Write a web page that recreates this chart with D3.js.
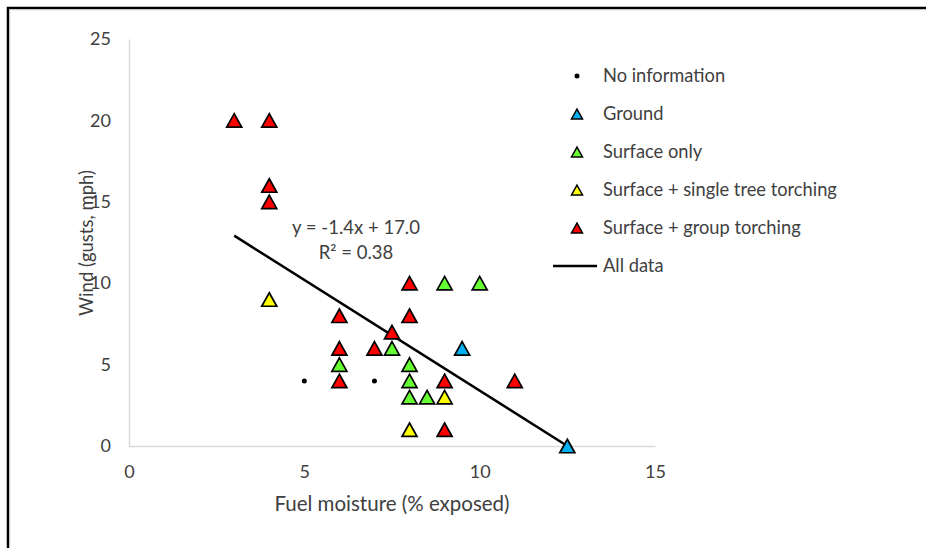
<!DOCTYPE html>
<html>
<head>
<meta charset="utf-8">
<script src="https://cdn.jsdelivr.net/npm/d3@7"></script>
<style>
	body { margin: 0; background: #fff; }
	text { font-family: Lato, "Open Sans", sans-serif; fill: #404040; }
</style>
</head>
<body>
<div id="graph"></div>
<script>
// categories, in legend order
var categories = ["No information", "Ground", "Surface only", "Surface + single tree torching", "Surface + group torching"];
var catColors = ["#000000", "#00b0f0", "#66ff33", "#ffff00", "#ff0000"];

// [fuel moisture, wind gusts] per category
var noInfo = [[5, 4], [7, 4]];
var ground = [[9.5, 6], [12.5, 0]];
var surfaceOnly = [[9, 10], [10, 10], [7.5, 6], [6, 5], [8, 5], [8, 4], [8, 3], [8.5, 3]];
var singleTree = [[4, 9], [9, 3], [8, 1]];
var groupTorch = [[3, 20], [4, 20], [4, 16], [4, 15], [6, 8], [8, 10], [8, 8], [7.5, 7],
	[6, 6], [7, 6], [6, 4], [9, 4], [9, 1], [11, 4]];

var xTicks = [0, 5, 10, 15];
var yTicks = [0, 5, 10, 15, 20, 25];

// linear trend, all data
var trendSlope = -1.36;
var trendIntercept = 17.0;
var trendRange = [3, 12.5];
var trendLabel = ["y = -1.4x + 17.0", "R\u00b2 = 0.38"];

var seriesList = [noInfo, ground, surfaceOnly, singleTree, groupTorch];

var width = 926, height = 548;

var x = d3.scaleLinear().domain([0, 15]).range([129, 655]);
var y = d3.scaleLinear().domain([0, 25]).range([446, 39]);

// triangle centred on its box, like Excel markers
function triangle(w) {
	var h = w * 0.9;
	return "M0," + (-h / 2) + "L" + (w / 2) + "," + (h / 2) + "L" + (-w / 2) + "," + (h / 2) + "Z";
}

var vis = d3.select("#graph")
	.append("svg")
	.attr("width", width)
	.attr("height", height);

// chart area border (cropped at right/bottom)
vis.append("rect")
	.attr("x", 8).attr("y", 8)
	.attr("width", width + 20).attr("height", height + 20)
	.attr("style", "fill:none;stroke:black;stroke-width:2.5");
vis.append("rect")
	.attr("x", 9.8).attr("y", 9.8)
	.attr("width", width + 20).attr("height", height + 20)
	.attr("style", "fill:none;stroke:#c8c8c8;stroke-width:0.8");

// axes
var xAxis = vis.append("g")
	.attr("transform", "translate(0," + y(0) + ")")
	.call(d3.axisBottom(x).tickValues(xTicks).tickSize(0).tickPadding(19).tickFormat(d3.format("d")));
var yAxis = vis.append("g")
	.attr("transform", "translate(" + x(0) + ",0)")
	.call(d3.axisLeft(y).tickValues(yTicks).tickSize(0).tickPadding(18).tickFormat(d3.format("d")));

[xAxis, yAxis].forEach(function (a) {
	a.select(".domain").attr("style", "stroke:#d9d9d9;stroke-width:1.5");
	a.selectAll("text")
		.attr("font-size", "18px")
		.attr("font-family", null)
		.attr("fill", null);
});

vis.append("text")
	.attr("x", 392).attr("y", 511)
	.attr("text-anchor", "middle")
	.attr("font-size", "20.5px")
	.text("Fuel moisture (% exposed)");

vis.append("text")
	.attr("transform", "translate(93,243) rotate(-90)")
	.attr("text-anchor", "middle")
	.attr("font-size", "18.5px")
	.text("Wind (gusts, mph)");

// trend line
vis.append("line")
	.attr("x1", x(trendRange[0]))
	.attr("y1", y(trendSlope * trendRange[0] + trendIntercept))
	.attr("x2", x(trendRange[1]))
	.attr("y2", y(trendSlope * trendRange[1] + trendIntercept))
	.attr("style", "stroke:black;stroke-width:2.5");

// points
seriesList.forEach(function (data, i) {
	var g = vis.append("g").attr("class", "series" + i);
	if (i === 0) {
		g.selectAll("circle")
			.data(data)
			.enter()
			.append("circle")
			.attr("cx", function (d) { return x(d[0]); })
			.attr("cy", function (d) { return y(d[1]); })
			.attr("r", 2.5)
			.attr("fill", "black");
	} else {
		g.selectAll("path")
			.data(data)
			.enter()
			.append("path")
			.attr("d", triangle(15))
			.attr("transform", function (d) { return "translate(" + x(d[0]) + "," + y(d[1]) + ")"; })
			.attr("style", "fill:" + catColors[i] + ";stroke:black;stroke-width:1.7;stroke-linejoin:miter");
	}
});

// equation
vis.selectAll(".eq")
	.data(trendLabel)
	.enter()
	.append("text")
	.attr("class", "eq")
	.attr("x", 356)
	.attr("y", function (d, i) { return 234 + i * 25; })
	.attr("text-anchor", "middle")
	.attr("font-size", "18.5px")
	.text(function (d) { return d; });

// legend
var legend = vis.append("g");
var rowY = function (i) { return 76 + i * 38; };
categories.forEach(function (c, i) {
	if (i === 0) {
		legend.append("circle")
			.attr("cx", 577).attr("cy", rowY(i)).attr("r", 2.5).attr("fill", "black");
	} else {
		legend.append("path")
			.attr("d", triangle(11))
			.attr("transform", "translate(577," + rowY(i) + ")")
			.attr("style", "fill:" + catColors[i] + ";stroke:black;stroke-width:1.5");
	}
	legend.append("text")
		.attr("x", 603).attr("y", rowY(i)).attr("dy", "0.35em")
		.attr("font-size", "18.3px")
		.text(c);
});
legend.append("line")
	.attr("x1", 553).attr("x2", 597)
	.attr("y1", rowY(5)).attr("y2", rowY(5))
	.attr("style", "stroke:black;stroke-width:2.5");
legend.append("text")
	.attr("x", 603).attr("y", rowY(5)).attr("dy", "0.35em")
	.attr("font-size", "18.3px")
	.text("All data");
</script>
</body>
</html>
